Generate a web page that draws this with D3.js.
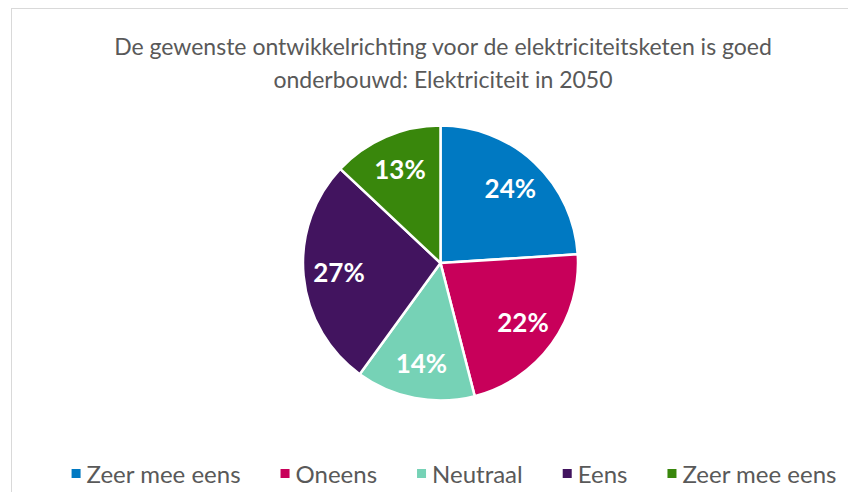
<!DOCTYPE html>
<html>
<head>
<meta charset="utf-8">
<script src="https://cdn.jsdelivr.net/npm/d3@7"></script>
<style>
  body { margin: 0; background: #fff; }
  svg { display: block; }
</style>
</head>
<body>
<svg id="chart" width="848" height="492"></svg>
<script>
const categories = ["Zeer mee eens", "Oneens", "Neutraal", "Eens", "Zeer mee eens"];
const values = [24, 22, 14, 27, 13];
const colors = ["#0079C2", "#C8005A", "#76D2B6", "#42145F", "#39870C"];
const titleLines = ["De gewenste ontwikkelrichting voor de elektriciteitsketen is goed",
                    "onderbouwd:  Elektriciteit in 2050"];

const width = 848, height = 492;
const cx = 440.5, cy = 263, radius = 137.5;

const svg = d3.select("#chart");

// chart area border
svg.append("rect")
  .attr("x", 11.5).attr("y", 8.5)
  .attr("width", width).attr("height", height)
  .attr("fill", "#fff")
  .attr("stroke", "#d9d9d9")
  .attr("stroke-width", 1);

// title
svg.append("g").selectAll("text")
  .data(titleLines)
  .join("text")
    .attr("x", 443)
    .attr("y", function(d, i){ return 55 + i * 33; })
    .attr("text-anchor", "middle")
    .attr("font-family", "Lato, sans-serif")
    .attr("font-size", 23)
    .attr("fill", "#595959")
    .text(function(d){ return d; });

const data = categories.map(function(c, i){
  return {name: c, value: values[i], color: colors[i]};
});

const pie = d3.pie()
  .sort(null)
  .value(function(d){ return d.value; });

const arc = d3.arc().innerRadius(0).outerRadius(radius);
const labelArc = d3.arc().innerRadius(102).outerRadius(102);

const g = svg.append("g")
  .attr("transform", "translate(" + cx + "," + cy + ")");

const arcs = pie(data);

g.selectAll("path")
  .data(arcs)
  .join("path")
    .attr("d", arc)
    .attr("fill", function(d){ return d.data.color; })
    .attr("stroke", "#fff")
    .attr("stroke-width", 2.5)
    .attr("stroke-linejoin", "round");

g.selectAll(".label")
  .data(arcs)
  .join("text")
    .attr("class", "label")
    .attr("transform", function(d){ return "translate(" + labelArc.centroid(d) + ")"; })
    .attr("text-anchor", "middle")
    .attr("dy", "0.36em")
    .attr("font-family", "Lato, sans-serif")
    .attr("font-weight", "bold")
    .attr("font-size", 26)
    .attr("fill", "#fff")
    .text(function(d){ return d.data.value + "%"; });

// legend
const legend = svg.append("g");
const items = legend.selectAll("g")
  .data(data)
  .join("g");

items.append("rect")
  .attr("width", 9).attr("height", 9)
  .attr("y", -6)
  .attr("fill", function(d){ return d.color; });

items.append("text")
  .attr("x", 15)
  .attr("y", 0)
  .attr("dy", "0.35em")
  .attr("font-family", "Lato, sans-serif")
  .attr("font-size", 24)
  .attr("fill", "#595959")
  .text(function(d){ return d.name; });

let widths = [];
items.each(function(){ widths.push(this.getBBox().width); });
const gap = 40;
const total = d3.sum(widths) + gap * (widths.length - 1);
let x = 454 - total / 2;
items.attr("transform", function(d, i){
  const t = "translate(" + x + ",475)";
  x += widths[i] + gap;
  return t;
});
</script>
</body>
</html>
